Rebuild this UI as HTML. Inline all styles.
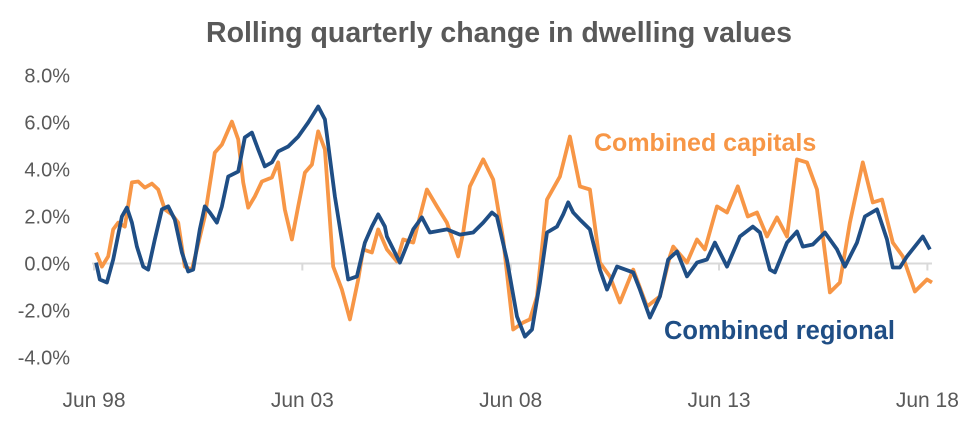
<!DOCTYPE html>
<html><head><meta charset="utf-8"><style>
body{margin:0;background:#fff;}
svg{display:block;font-family:"Liberation Sans",Arial,sans-serif;}
</style></head><body>
<svg id="chart" width="973" height="437">
<text x="499" y="42" text-anchor="middle" font-size="28.5" font-weight="bold" fill="#595959">Rolling quarterly change in dwelling values</text>
<g id="yaxis"></g>
<g id="xaxis"></g>
<g id="series"></g>
<text x="594" y="151" font-size="25" font-weight="bold" fill="#F79646">Combined capitals</text>
<text x="664" y="339" font-size="25.5" font-weight="bold" fill="#1F4E85">Combined regional</text>
</svg>
<script>
const yTicks=[8,6,4,2,0,-2,-4];
const xTickLabels=["Jun 98","Jun 03","Jun 08","Jun 13","Jun 18"];
const xTickYears=[0,5,10,15,20];
const capT=[.05,.19,.34,.46,.58,.74,.91,1.06,1.22,1.39,1.54,1.70,1.87,2.02,2.18,2.35,2.47,2.66,2.90,3.07,3.31,3.46,3.58,3.70,3.86,4.03,4.27,4.42,4.58,4.75,4.90,5.06,5.23,5.38,5.54,5.74,5.95,6.14,6.34,6.46,6.67,6.82,7.03,7.27,7.42,7.66,7.99,8.23,8.47,8.74,8.86,9.02,9.34,9.58,9.82,10.06,10.30,10.46,10.63,10.87,11.18,11.42,11.66,11.90,12.14,12.38,12.62,12.94,13.27,13.58,13.82,13.90,14.23,14.47,14.66,14.95,15.19,15.45,15.69,15.91,16.15,16.39,16.63,16.87,17.11,17.35,17.66,17.90,18.14,18.45,18.69,18.91,19.17,19.41,19.70,19.99,20.11];
const capV=[.47,-.13,.30,1.45,1.74,1.57,3.45,3.49,3.23,3.40,3.15,2.30,2.09,1.74,-.13,-.26,.60,2.00,4.72,5.06,6.04,5.28,3.45,2.38,2.85,3.49,3.66,4.30,2.30,1.02,2.43,3.87,4.21,5.62,4.85,-.13,-1.11,-2.38,-.68,.60,.47,1.45,.60,.09,1.02,.89,3.15,2.43,1.74,.30,1.32,3.28,4.43,3.57,1.02,-2.81,-2.51,-2.38,-1.40,2.72,3.70,5.40,3.28,3.15,.04,-.55,-1.66,-.26,-1.83,-1.40,.30,.72,.04,1.02,.60,2.43,2.17,3.28,2.00,2.17,1.15,1.96,1.15,4.43,4.30,3.15,-1.23,-.81,1.74,4.30,2.60,2.72,.89,.30,-1.19,-.68,-.81];
const regT=[.05,.14,.31,.46,.67,.79,.91,1.03,1.18,1.30,1.46,1.63,1.78,1.94,2.11,2.26,2.38,2.54,2.66,2.78,2.95,3.07,3.22,3.46,3.62,3.79,3.94,4.10,4.27,4.42,4.66,4.90,5.14,5.38,5.54,5.78,6.10,6.31,6.50,6.67,6.82,6.98,7.03,7.34,7.66,7.87,8.06,8.47,8.78,9.10,9.34,9.55,9.67,9.91,10.15,10.34,10.51,10.70,10.87,11.11,11.26,11.38,11.50,11.66,11.90,12.14,12.31,12.55,12.94,13.10,13.34,13.58,13.78,13.99,14.23,14.47,14.71,14.90,15.19,15.50,15.81,15.98,16.22,16.34,16.63,16.87,17.01,17.25,17.54,17.83,18.02,18.31,18.50,18.79,19.03,19.17,19.34,19.51,19.89,20.06];
const regV=[.04,-.68,-.81,.17,2.00,2.38,1.74,.72,-.13,-.26,1.02,2.30,2.43,1.87,.47,-.34,-.26,1.45,2.43,2.17,1.74,2.43,3.70,3.91,5.36,5.57,4.85,4.13,4.30,4.77,4.98,5.40,6.00,6.68,6.13,2.85,-.68,-.55,.89,1.57,2.09,1.57,1.15,.04,1.45,1.96,1.32,1.45,1.23,1.32,1.74,2.17,2.00,.17,-2.26,-3.11,-2.81,-.81,1.32,1.57,2.09,2.60,2.17,1.87,1.45,-.26,-1.11,-.13,-.38,-1.11,-2.30,-1.40,.17,.51,-.55,.04,.17,.89,-.13,1.15,1.57,1.32,-.26,-.38,.89,1.36,.72,.81,1.32,.60,-.13,.89,2.00,2.30,1.02,-.17,-.17,.30,1.15,.60];
const NS="http://www.w3.org/2000/svg";
const X=t=>94+t*41.67;
const Y=v=>263.5-v*23.5;
const ya=document.getElementById('yaxis'),xa=document.getElementById('xaxis'),sg=document.getElementById('series');
yTicks.forEach(v=>{
  const t=document.createElementNS(NS,'text');
  
  
  t.setAttribute('x',70);t.setAttribute('y',Y(v)+7);t.setAttribute('text-anchor','end');
  t.setAttribute('font-size','20');t.setAttribute('fill','#595959');
  t.textContent=v.toFixed(1)+'%';ya.appendChild(t);
});
const base=document.createElementNS(NS,'line');


base.setAttribute('x1',92);base.setAttribute('x2',932);base.setAttribute('y1',Y(0));base.setAttribute('y2',Y(0));
base.setAttribute('stroke','#d9d9d9');base.setAttribute('stroke-width','2');xa.appendChild(base);
xTickYears.forEach((yr,i)=>{
  const tk=document.createElementNS(NS,'line');
  
  
  tk.setAttribute('x1',X(yr));tk.setAttribute('x2',X(yr));tk.setAttribute('y1',Y(0));tk.setAttribute('y2',Y(0)+7);
  tk.setAttribute('stroke','#d9d9d9');tk.setAttribute('stroke-width','2');xa.appendChild(tk);
  const t=document.createElementNS(NS,'text');
  
  
  t.setAttribute('x',X(yr));t.setAttribute('y',407);t.setAttribute('text-anchor','middle');
  t.setAttribute('font-size','21');t.setAttribute('fill','#595959');
  t.textContent=xTickLabels[i];xa.appendChild(t);
});
function line(ts,vs,color,name){
  const p=document.createElementNS(NS,'polyline');
  
  
  p.setAttribute('points',ts.map((t,i)=>X(t).toFixed(1)+','+Y(vs[i]).toFixed(1)).join(' '));
  p.setAttribute('fill','none');p.setAttribute('stroke',color);p.setAttribute('stroke-width','3.8');
  p.setAttribute('stroke-linejoin','round');sg.appendChild(p);
}
line(capT,capV,'#F79646','capitals-line');
line(regT,regV,'#1F4E85','regional-line');
</script>
</body></html>
